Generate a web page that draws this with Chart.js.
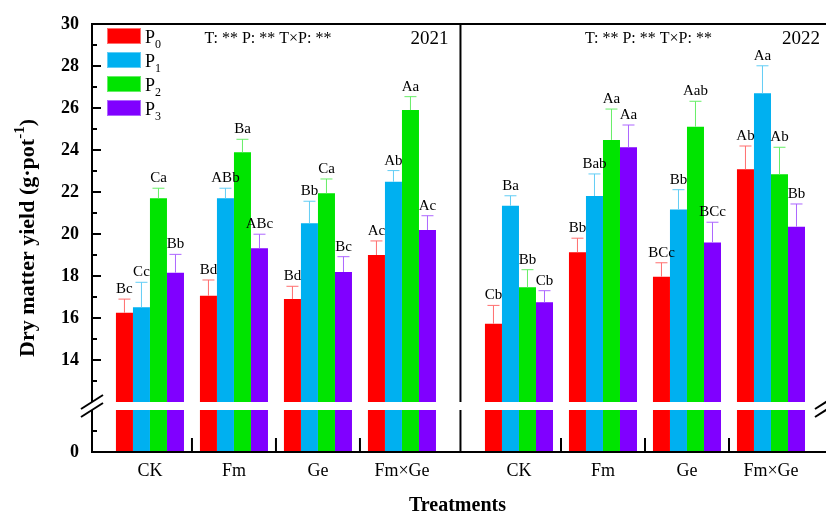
<!DOCTYPE html>
<html>
<head>
<meta charset="utf-8">
<script src="https://cdn.jsdelivr.net/npm/chart.js@4.4.0/dist/chart.umd.min.js"></script>
<style>
    html, body { margin: 0; padding: 0; background: #fff; }
</style>
</head>
<body>
<canvas id="yieldChart" width="826" height="515"></canvas>
<script>
// treatments repeat once per year (2021 panel, then 2022 panel)
var treatments = ['CK', 'Fm', 'Ge', 'Fm×Ge'];
var years = ['2021', '2022'];
var categories = treatments.concat(treatments);
var seriesNames = ['P0', 'P1', 'P2', 'P3'];

var p0 = [16.25, 17.06, 16.90, 19.00, 15.73, 19.13, 17.97, 23.08];
var p1 = [16.51, 21.70, 20.51, 22.49, 21.35, 21.81, 21.17, 26.70];
var p2 = [21.70, 23.89, 21.94, 25.90, 17.46, 24.48, 25.11, 22.84];
var p3 = [18.16, 19.32, 18.19, 20.19, 16.75, 24.13, 19.60, 20.35];

var p0Err = [0.65, 0.75, 0.61, 0.67, 0.87, 0.67, 0.66, 1.11];
var p1Err = [1.19, 0.48, 1.05, 0.53, 0.47, 1.05, 0.94, 1.31];
var p2Err = [0.48, 0.62, 0.68, 0.64, 0.84, 1.47, 1.21, 1.29];
var p3Err = [0.87, 0.67, 0.73, 0.68, 0.55, 1.06, 0.96, 1.08];

var p0Sig = ['Bc', 'Bd', 'Bd', 'Ac', 'Cb', 'Bb', 'BCc', 'Ab'];
var p1Sig = ['Cc', 'ABb', 'Bb', 'Ab', 'Ba', 'Bab', 'Bb', 'Aa'];
var p2Sig = ['Ca', 'Ba', 'Ca', 'Aa', 'Bb', 'Aa', 'Aab', 'Ab'];
var p3Sig = ['Bb', 'ABc', 'Bc', 'Ac', 'Cb', 'Aa', 'BCc', 'Bb'];

var anovaText = ['T: ** P: ** T×P: **', 'T: ** P: ** T×P: **'];

var yLabelTicks = [0, 14, 16, 18, 20, 22, 24, 26, 28, 30];
var yMinorTicks = [1, 13, 15, 17, 19, 21, 23, 25, 27, 29];

var colors = ['#ff0000', '#00b0f0', '#00e400', '#8000ff'];
var errColors = ['#ff6e6e', '#62cdf5', '#66ee66', '#ad66ff'];
var serif = '"Liberation Serif", "Times New Roman", serif';

// y axis with a break between 2 and 12
class BrokenScale extends Chart.LinearScale {
    getPixelForValue(value) {
        if (value === null || isNaN(value)) return NaN;
        var b = this.options.brk;
        var k = (this.bottom - this.top - b.gap) / ((this.max - b.upper) + (b.lower - this.min));
        var lowTop = this.bottom - (b.lower - this.min) * k;
        if (value <= b.lower) return this.bottom - (value - this.min) * k;
        if (value >= b.upper) return lowTop - b.gap - (value - b.upper) * k;
        return lowTop - b.gap * (value - b.lower) / (b.upper - b.lower);
    }
}
BrokenScale.id = 'broken';

// category axis with extra room between the two years
class SplitCategoryScale extends Chart.CategoryScale {
    getPixelForValue(value) {
        if (typeof value !== 'number') value = this.parse(value);
        if (value === null || isNaN(value)) return NaN;
        var s = this.options.split;
        var n = this.getLabels().length;
        var lo = -s.padStart, hi = n - 1 + s.gap + s.padEnd;
        var v = value + (value >= s.index - 0.5 ? s.gap : 0);
        return this.left + (v - lo) / (hi - lo) * this.width;
    }
}
SplitCategoryScale.id = 'splitcat';

Chart.register(BrokenScale, SplitCategoryScale);

function line(ctx, x1, y1, x2, y2) {
    ctx.beginPath();
    ctx.moveTo(x1, y1);
    ctx.lineTo(x2, y2);
    ctx.stroke();
}

var decorPlugin = {
    id: 'decor',
    afterDatasetsDraw: function (chart) {
        var ctx = chart.ctx, ca = chart.chartArea;
        var xs = chart.scales.x, ys = chart.scales.y;
        var gapTop = ys.getPixelForValue(12), gapBottom = ys.getPixelForValue(2);
        var divider = (xs.getPixelForValue(3) + xs.getPixelForValue(4)) / 2;

        ctx.save();
        // white band for the axis break
        ctx.fillStyle = '#fff';
        ctx.fillRect(ca.left, gapTop, ca.right - ca.left, gapBottom - gapTop);

        // error bars and letters
        chart.data.datasets.forEach(function (ds, i) {
            var meta = chart.getDatasetMeta(i);
            meta.data.forEach(function (bar, j) {
                var top = ys.getPixelForValue(ds.data[j] + ds.errors[j]);
                ctx.strokeStyle = ds.errorColor;
                ctx.lineWidth = 1;
                line(ctx, bar.x, bar.y, bar.x, top);
                line(ctx, bar.x - 6, top, bar.x + 6, top);
                ctx.fillStyle = '#000';
                ctx.font = '15px ' + serif;
                ctx.textAlign = 'center';
                ctx.textBaseline = 'alphabetic';
                ctx.fillText(ds.letters[j], bar.x, top - 6);
            });
        });

        // frame (right side sits on the canvas edge, left open like the original)
        ctx.strokeStyle = '#000';
        ctx.lineWidth = 2;
        line(ctx, ca.left - 1, ca.top, ca.right, ca.top);
        line(ctx, ca.left - 1, ca.bottom, ca.right, ca.bottom);
        [ca.left, divider].forEach(function (x) {
            line(ctx, x, ca.top, x, gapTop);
            line(ctx, x, gapBottom, x, ca.bottom);
        });

        // inward y ticks
        ys.ticks.forEach(function (t) {
            var py = ys.getPixelForValue(t.value);
            var len = yLabelTicks.indexOf(t.value) >= 0 ? 9 : 5;
            line(ctx, ca.left, py, ca.left + len, py);
        });

        // group separators on the x axis
        for (var i = 0; i < categories.length - 1; i++) {
            if (i === 3) continue;
            var mid = (xs.getPixelForValue(i) + xs.getPixelForValue(i + 1)) / 2;
            line(ctx, mid, ca.bottom, mid, ca.bottom - 14);
        }

        // break marks
        var yc = (gapTop + gapBottom) / 2;
        [ca.left, ca.right].forEach(function (x) {
            [-4, 4].forEach(function (off) {
                line(ctx, x - 11, yc + off + 7, x + 11, yc + off - 7);
            });
        });

        // legend with subscripts
        chart.data.datasets.forEach(function (ds, i) {
            var bx = ca.left + 15, by = ca.top + 4 + 24 * i;
            ctx.fillStyle = ds.backgroundColor;
            ctx.fillRect(bx, by, 34, 16);
            ctx.strokeStyle = ds.errorColor;
            ctx.lineWidth = 1;
            ctx.strokeRect(bx + 0.5, by + 0.5, 33, 15);
            ctx.fillStyle = '#000';
            ctx.textAlign = 'left';
            ctx.textBaseline = 'alphabetic';
            ctx.font = '18px ' + serif;
            ctx.fillText(ds.label.charAt(0), bx + 38, by + 15);
            var w = ctx.measureText(ds.label.charAt(0)).width;
            ctx.font = '12px ' + serif;
            ctx.fillText(ds.label.slice(1), bx + 38 + w, by + 20);
        });

        // ANOVA notes and years
        ctx.fillStyle = '#000';
        ctx.textBaseline = 'alphabetic';
        ctx.font = '16px ' + serif;
        ctx.textAlign = 'center';
        ctx.fillText(anovaText[0], ca.left + 176, ca.top + 19);
        ctx.fillText(anovaText[1], divider + 188, ca.top + 19);
        ctx.font = '19px ' + serif;
        ctx.textAlign = 'right';
        ctx.fillText(years[0], divider - 12, ca.top + 20);
        ctx.fillText(years[1], ca.right - 6, ca.top + 20);

        // axis titles
        ctx.font = 'bold 20px ' + serif;
        ctx.textAlign = 'center';
        ctx.textBaseline = 'middle';
        ctx.fillText('Treatments', divider - 3, 506);

        ctx.translate(28, (ca.top + ca.bottom) / 2);
        ctx.rotate(-Math.PI / 2);
        var main = 'Dry matter yield (g·pot', sup = '-1', end = ')';
        ctx.font = 'bold 22px ' + serif;
        var w1 = ctx.measureText(main).width, w3 = ctx.measureText(end).width;
        ctx.font = 'bold 15px ' + serif;
        var w2 = ctx.measureText(sup).width;
        var x0 = -(w1 + w2 + w3) / 2;
        ctx.textAlign = 'left';
        ctx.font = 'bold 22px ' + serif;
        ctx.fillText(main, x0, 0);
        ctx.fillText(end, x0 + w1 + w2, 0);
        ctx.font = 'bold 15px ' + serif;
        ctx.fillText(sup, x0 + w1, -8);
        ctx.restore();
    }
};

Chart.defaults.font.family = serif;
Chart.defaults.color = '#000';

var seriesValues = [p0, p1, p2, p3];
var seriesErrors = [p0Err, p1Err, p2Err, p3Err];
var seriesLetters = [p0Sig, p1Sig, p2Sig, p3Sig];

var datasets = seriesNames.map(function (name, i) {
    return {
        label: name,
        data: seriesValues[i],
        errors: seriesErrors[i],
        letters: seriesLetters[i],
        backgroundColor: colors[i],
        errorColor: errColors[i],
        borderWidth: 0
    };
});

new Chart(document.getElementById('yieldChart'), {
    type: 'bar',
    data: { labels: categories, datasets: datasets },
    options: {
        responsive: false,
        animation: false,
        events: [],
        layout: { padding: { top: 24, left: 0, right: 0, bottom: 0 } },
        datasets: { bar: { categoryPercentage: 0.81, barPercentage: 1 } },
        plugins: {
            legend: { display: false },
            tooltip: { enabled: false }
        },
        scales: {
            x: {
                type: 'splitcat',
                split: { index: 4, gap: 0.393, padStart: 0.69, padEnd: 0.655 },
                grid: { display: false, drawTicks: false },
                border: { display: false },
                ticks: { font: { size: 18 }, padding: 8, autoSkip: false, maxRotation: 0 },
                afterFit: function (s) { s.height = 63; }
            },
            y: {
                type: 'broken',
                min: 0,
                max: 30,
                brk: { lower: 2, upper: 12, gap: 8 },
                grid: { display: false, drawTicks: false },
                border: { display: false },
                ticks: {
                    font: { size: 18, weight: 'bold' },
                    padding: 13,
                    autoSkip: false,
                    callback: function (v) { return yLabelTicks.indexOf(v) >= 0 ? String(v) : ''; }
                },
                afterBuildTicks: function (s) {
                    s.ticks = yLabelTicks.concat(yMinorTicks).sort(function (a, b) { return a - b; })
                        .map(function (v) { return { value: v }; });
                },
                afterFit: function (s) { s.width = 92; }
            }
        }
    },
    plugins: [decorPlugin]
});
</script>
</body>
</html>
